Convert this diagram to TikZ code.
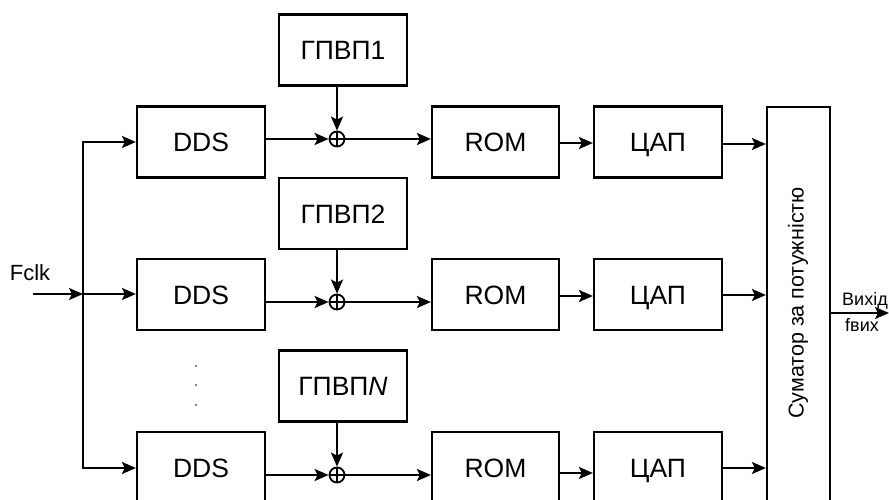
\documentclass[tikz,border=0pt]{standalone}
\usepackage{fontspec}
\setmainfont{Liberation Sans}
\usetikzlibrary{arrows.meta}
\begin{document}
\begin{tikzpicture}[x=1pt,y=-1pt,
  blk/.style={draw,line width=2.2pt,minimum width=128pt,minimum height=71pt,inner sep=0pt,text height=19pt,text depth=0pt,font=\fontsize{26.5}{30}\selectfont},
  sumbox/.style={draw,line width=2.2pt,minimum width=63pt,minimum height=453pt,inner sep=0pt},
  xorc/.style={draw,circle,line width=1.8pt,minimum size=15pt,inner sep=0pt},
  tip/.tip={Stealth[length=14pt,width=12pt,inset=3pt]},
  arr/.style={line width=2.2pt,-tip},
  lbl/.style={inner sep=0pt,font=\fontsize{21.5}{24}\selectfont}]
\useasboundingbox (0,0) rectangle (889,500);
\clip (0,0) rectangle (889,500);
% blocks
\node[blk] (dds1) at (201,142) {DDS};
\node[blk] (dds2) at (201,294.5) {DDS};
\node[blk] (dds3) at (201,467.5) {DDS};
\node[blk] (g1) at (343,50) {ГПВП1};
\node[blk] (g2) at (343,213.5) {ГПВП2};
\node[blk] (g3) at (343,386) {ГПВП\textit{N}};
\node[blk,minimum width=127pt] (rom1) at (495.5,142) {ROM};
\node[blk,minimum width=127pt] (rom2) at (495.5,294.5) {ROM};
\node[blk,minimum width=127pt] (rom3) at (495.5,467.5) {ROM};
\node[blk] (dac1) at (658,142) {ЦАП};
\node[blk] (dac2) at (658,294.5) {ЦАП};
\node[blk] (dac3) at (658,467.5) {ЦАП};
\node[sumbox] (sum) at (798.5,333.5) {};
\node[lbl,rotate=90] (sumtxt) at (798,303) {Суматор за потужністю};
% adders
\node[xorc] (x1) at (337,139) {};
\node[xorc] (x2) at (337,302) {};
\node[xorc] (x3) at (337,475) {};
\foreach \i in {1,2,3}{
  \draw[line width=1.6pt] (x\i.north) -- (x\i.south) (x\i.west) -- (x\i.east);
  \draw[arr] (dds\i.east |- x\i) -- (x\i.west);
  \draw[arr] (g\i.south -| x\i) -- (x\i.north);
  \draw[arr] (x\i.east) -- (rom\i.west |- x\i);
}
% ROM -> DAC, DAC -> sum
\coordinate (r1) at (0,143);
\coordinate (r2) at (0,296);
\coordinate (r3) at (0,473);
\coordinate (s1) at (0,144);
\coordinate (s2) at (0,295);
\coordinate (s3) at (0,468);
\foreach \i in {1,2,3}{
  \draw[arr] (rom\i.east |- r\i) -- (dac\i.west |- r\i);
  \draw[arr] (dac\i.east |- s\i) -- (sum.west |- s\i);
}
% clock bus
\coordinate (busT) at (83,142);
\coordinate (busM) at (83,294);
\coordinate (busB) at (83,468);
\coordinate (fin) at (33,294);
\node[lbl,font=\fontsize{22}{24}\selectfont] (fclk) at (30,273) {Fclk};
\draw[arr] (fin) -- (busM);
\draw[line width=2.2pt,tip-tip]
  (dds1.west |- busT) -- (busT) -- (busB) -- (dds3.west |- busB);
\draw[arr] (busM) -- (dds2.west |- busM);
% dots
\foreach \y in {366,385,405} \fill (196,\y) circle (0.9pt);
% output
\coordinate (outend) at (889,313);
\draw[arr] (sum.east |- outend) -- (outend);
\node[lbl,anchor=west,font=\fontsize{18}{22}\selectfont] (vyh) at (842,301) {Вихід};
\node[lbl,anchor=west,font=\fontsize{18}{22}\selectfont] (fvyh) at (845,325) {fвих};
\end{tikzpicture}
\end{document}
